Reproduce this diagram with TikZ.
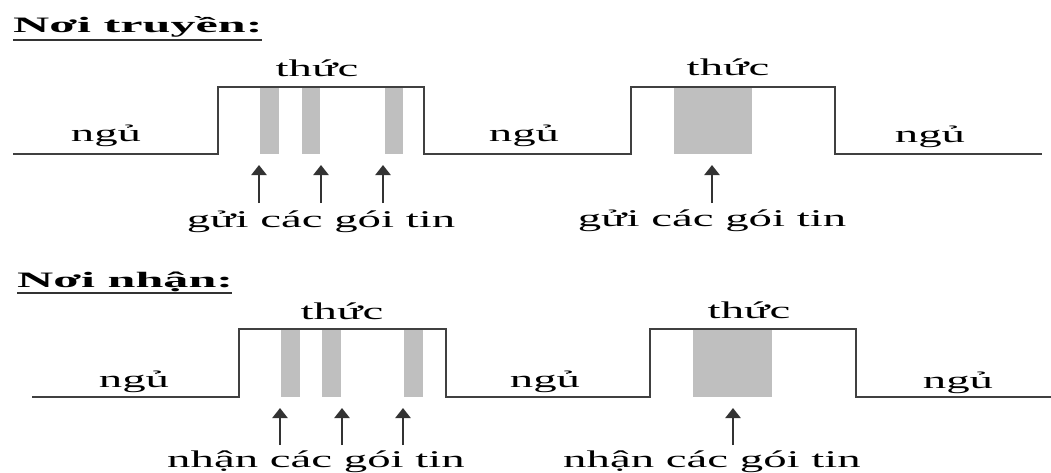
\documentclass[tikz,border=0pt]{standalone}
\usepackage{fontspec}
\usetikzlibrary{arrows.meta}
\setmainfont{Liberation Serif}
\newfontfamily\wavefont{Liberation Serif}[FakeStretch=1.95]
\newfontfamily\headfont{Liberation Serif}[FakeStretch=2.28]
\begin{document}
\begin{tikzpicture}[x=1pt,y=-1pt,
  wave/.style={draw=black!75, line width=2pt, line join=miter},
  pkt/.style={fill=black!25, draw=none},
  lbl/.style={font=\wavefont\fontsize{24}{28}\selectfont, anchor=base, inner sep=0pt},
  head/.style={font=\headfont\bfseries\fontsize{22}{26}\selectfont, anchor=base west, inner sep=0pt},
  uline/.style={draw=black!80, line width=1.6pt},
  ptr/.style={draw=black!80, line width=2.4pt, -{Triangle[width=15pt,length=10pt]}}]
\useasboundingbox (0,0) rectangle (1051,472);

% ---------- sender ----------
\node[head] (sendttl) at (13,32) {Nơi truyền:};
\coordinate (sendulA) at (13,40);
\coordinate (sendulB) at (262,40);
\draw[uline] (sendulA) -- (sendulB);

% packets inside the awake windows
\fill[pkt] (260,87) rectangle (279,154);
\fill[pkt] (302,87) rectangle (320,154);
\fill[pkt] (385,87) rectangle (403,154);
\fill[pkt] (674,87) rectangle (752,154);

% sleep / awake waveform
\draw[wave] (13,154) -- (218,154) -- (218,87) -- (424,87) -- (424,154)
  -- (631,154) -- (631,87) -- (835,87) -- (835,154) -- (1042,154);

\node[lbl] (sw1) at (317,76) {thức};
\node[lbl] (sw2) at (728,75) {thức};
\node[lbl] (ss1) at (106,141) {ngủ};
\node[lbl] (ss2) at (524,141) {ngủ};
\node[lbl] (ss3) at (930,142) {ngủ};
\node[lbl] (stx1) at (321,227) {gửi các gói tin};
\node[lbl] (stx2) at (712,226) {gửi các gói tin};

\coordinate (sa1) at (259,203); \coordinate (sb1) at (259,165);
\coordinate (sa2) at (321,203); \coordinate (sb2) at (321,165);
\coordinate (sa3) at (383,203); \coordinate (sb3) at (383,165);
\coordinate (sa4) at (712,203); \coordinate (sb4) at (712,165);
\foreach \i in {1,...,4} \draw[ptr] (sa\i) -- (sb\i);

% ---------- receiver ----------
\node[head] (recvttl) at (17,287) {Nơi nhận:};
\coordinate (recvulA) at (17,293);
\coordinate (recvulB) at (232,293);
\draw[uline] (recvulA) -- (recvulB);

\fill[pkt] (281,329) rectangle (300,397);
\fill[pkt] (322,329) rectangle (341,397);
\fill[pkt] (404,329) rectangle (423,397);
\fill[pkt] (693,329) rectangle (772,397);

\draw[wave] (32,397) -- (239,397) -- (239,329) -- (446,329) -- (446,397)
  -- (650,397) -- (650,329) -- (856,329) -- (856,397) -- (1051,397);

\node[lbl] (rw1) at (342,319) {thức};
\node[lbl] (rw2) at (749,318) {thức};
\node[lbl] (rs1) at (134,387) {ngủ};
\node[lbl] (rs2) at (545,387) {ngủ};
\node[lbl] (rs3) at (958,388) {ngủ};
\node[lbl] (rtx1) at (316,467) {nhận các gói tin};
\node[lbl] (rtx2) at (712,467) {nhận các gói tin};

\coordinate (ra1) at (280,445); \coordinate (rb1) at (280,408);
\coordinate (ra2) at (342,445); \coordinate (rb2) at (342,408);
\coordinate (ra3) at (403,445); \coordinate (rb3) at (403,408);
\coordinate (ra4) at (733,445); \coordinate (rb4) at (733,408);
\foreach \i in {1,...,4} \draw[ptr] (ra\i) -- (rb\i);
\end{tikzpicture}
\end{document}
